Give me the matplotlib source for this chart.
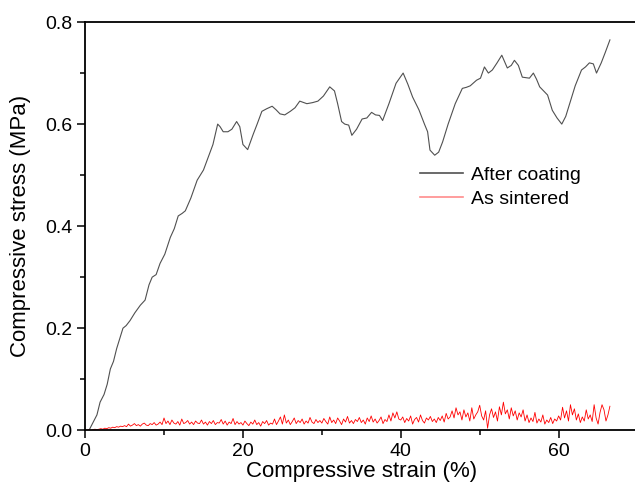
import numpy as np
import matplotlib.pyplot as plt

plt.rcParams['font.family'] = ['Liberation Sans', 'DejaVu Sans']

# After coating: (strain %, stress MPa)
coat_x = [0.5, 1.0, 1.5, 1.9, 2.4, 2.8, 3.2, 3.6, 4.0, 4.4, 4.8, 5.2, 5.7, 6.3, 7.0, 7.6,
          8.1, 8.5, 9.0, 9.5, 10.1, 10.8, 11.3, 11.8, 12.3, 12.7, 13.4, 14.2, 15.0, 15.6,
          16.2, 16.8, 17.1, 17.5, 18.1, 18.6, 19.2, 19.6, 20.0, 20.6, 21.3, 21.8, 22.4,
          23.0, 23.7, 24.2, 24.7, 25.3, 26.0, 26.6, 27.2, 28.1, 28.8, 29.5, 30.2, 31.0,
          31.6, 32.0, 32.5, 32.9, 33.4, 33.8, 34.4, 35.1, 35.7, 36.3, 36.8, 37.3, 37.7,
          38.5, 39.4, 40.3, 40.9, 41.5, 42.3, 43.0, 43.4, 43.7, 44.3, 44.8, 45.3, 46.0,
          46.9, 47.8, 48.3, 48.8, 49.6, 50.1, 50.6, 51.1, 51.6, 52.2, 52.8, 53.5, 54.0,
          54.4, 54.9, 55.4, 56.3, 56.8, 57.2, 57.6, 58.1, 58.6, 59.2, 59.8, 60.4, 60.9,
          61.4, 62.1, 62.9, 63.4, 63.9, 64.4, 64.8, 65.4, 65.9, 66.5]
coat_y = [0.000, 0.015, 0.030, 0.055, 0.070, 0.090, 0.120, 0.135, 0.160, 0.180, 0.200,
          0.205, 0.215, 0.230, 0.245, 0.255, 0.285, 0.300, 0.305, 0.327, 0.345, 0.378,
          0.395, 0.420, 0.425, 0.430, 0.455, 0.490, 0.510, 0.535, 0.560, 0.600, 0.595,
          0.585, 0.585, 0.590, 0.605, 0.595, 0.560, 0.550, 0.580, 0.600, 0.625, 0.630,
          0.635, 0.628, 0.620, 0.618, 0.625, 0.632, 0.645, 0.640, 0.642, 0.645, 0.655,
          0.673, 0.665, 0.640, 0.605, 0.600, 0.598, 0.578, 0.590, 0.610, 0.612, 0.623,
          0.618, 0.617, 0.607, 0.640, 0.680, 0.700, 0.678, 0.653, 0.628, 0.600, 0.585,
          0.549, 0.539, 0.545, 0.565, 0.600, 0.640, 0.670, 0.672, 0.675, 0.686, 0.690,
          0.712, 0.700, 0.706, 0.720, 0.735, 0.710, 0.715, 0.725, 0.715, 0.692, 0.690,
          0.700, 0.688, 0.673, 0.665, 0.657, 0.627, 0.612, 0.600, 0.615, 0.640, 0.675,
          0.706, 0.712, 0.720, 0.718, 0.700, 0.720, 0.740, 0.765]

# As sintered: stress in 1e-3 MPa, sampled every 0.25 % strain from 0
sint_mpa_e3 = [
    0, 0, 1, 0, 1, 2, 1, 2, 3, 2, 4, 3, 5, 4, 6, 5, 7, 6, 8, 7,
    9, 7, 12, 8, 10, 13, 9, 11, 8, 12, 14, 10, 9, 13, 11, 15, 10, 12, 16, 11,
    24, 13, 18, 11, 20, 14, 12, 17, 10, 22, 13, 15, 19, 12, 16, 11, 18, 14, 13, 20,
    12, 16, 10, 17, 13, 19, 11, 15, 14, 21, 12, 18, 10, 16, 13, 23, 11, 17, 12, 15,
    10, 18, 13, 9, 16, 12, 20, 11, 15, 8, 17, 13, 19, 10, 14, 12, 22, 11, 18, 26,
    12, 30, 14, 20, 11, 17, 24, 13, 19, 15, 22, 12, 18, 14, 25, 16, 13, 21, 15, 19,
    14, 23, 17, 12, 26, 15, 20, 13, 24, 18, 11, 22, 16, 27, 14, 19, 13, 21, 17, 25,
    15, 20, 12, 24, 17, 28, 16, 22, 14, 19, 26, 13, 21, 17, 30, 18, 34, 24, 36, 22,
    20, 26, 15, 23, 18, 28, 12, 21, 25, 16, 30, 19, 14, 24, 20, 27, 17, 22, 15, 25,
    19, 28, 16, 33, 22, 26, 38, 24, 44, 30, 36, 20, 40, 26, 34, 18, 44, 22, 30, 36,
    49, 28, 20, 38, 4, 30, 42, 25, 36, 18, 46, 30, 55, 32, 40, 22, 44, 28, 38, 20,
    34, 26, 40, 18, 30, 15, 24, 17, 35, 14, 22, 16, 30, 12, 20, 15, 25, 13, 22, 18,
    28, 20, 45, 24, 38, 18, 50, 30, 42, 20, 32, 15, 26, 18, 40, 22, 30, 17, 50, 24,
    12, 35, 50, 40, 18, 30, 47]
sint_y = np.array(sint_mpa_e3) / 1000.0
sint_x = np.arange(len(sint_y)) * 0.25

fig = plt.figure(figsize=(6.35, 4.9), dpi=100)
ax = fig.add_axes([0.134, 0.122, 0.87, 0.833])

ax.plot(coat_x, coat_y, color='#505050', lw=0.8, label='After coating')
ax.plot(sint_x, sint_y, color='red', lw=0.6, label='As sintered')

ax.set_xlim(0, 70)
ax.set_ylim(0, 0.8)
ax.set_xticks([0, 20, 40, 60])
ax.set_xticks([10, 30, 50], minor=True)
ax.set_yticks([0.0, 0.2, 0.4, 0.6, 0.8])
ax.set_yticks([0.1, 0.3, 0.5, 0.7], minor=True)
ax.yaxis.set_major_formatter(plt.FormatStrFormatter('%.1f'))
ax.tick_params(which='major', direction='out', length=6, width=1.1, labelsize=14, pad=3)
ax.tick_params(which='minor', direction='out', length=3.5, width=1.1)
for s in ax.spines.values():
    s.set_linewidth(1.3)
ax.spines['right'].set_visible(False)

ax.set_xlabel('Compressive strain (%)', fontsize=16, labelpad=1)
ax.set_ylabel('Compressive stress (MPa)', fontsize=16, labelpad=10)

leg = ax.legend(loc='upper left', bbox_to_anchor=(0.575, 0.69), frameon=False,
                fontsize=14, handlelength=2.2, handletextpad=0.4, labelspacing=0.35)
for h, a in zip(leg.get_lines(), [1.0, 0.45]):
    h.set_linewidth(1.2)
    h.set_alpha(a)

fig.savefig('out.png', dpi=100)
